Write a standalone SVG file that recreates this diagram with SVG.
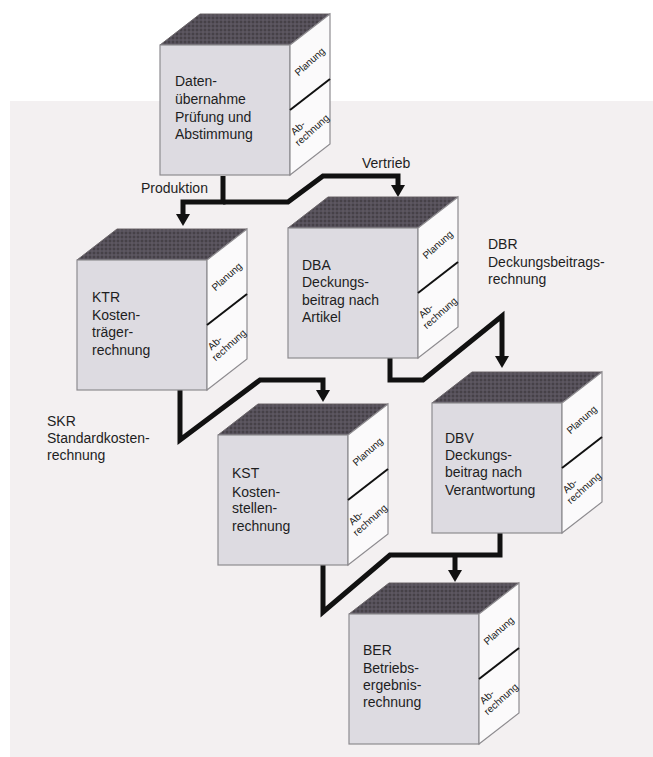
<svg xmlns="http://www.w3.org/2000/svg" xmlns:xlink="http://www.w3.org/1999/xlink" width="653" height="757" viewBox="0 0 653 757">
<style>
.top{fill:#524c51;stroke:#6a6569;stroke-width:1}
.front{fill:#dddbe1;stroke:#8e8c90;stroke-width:1.2}
.side{fill:#fbfafb;stroke:#8e8c90;stroke-width:1.2}
.div{stroke:#111;stroke-width:2}
.t{font-family:"Liberation Sans",Arial,sans-serif;font-size:14px;fill:#1e1e1e}
.s{font-family:"Liberation Sans",Arial,sans-serif;font-size:10px;fill:#1a1a1a}
.conn{fill:none;stroke:#111;stroke-width:5;stroke-linejoin:miter}
</style>
<defs>
<pattern id="dots" width="4" height="4" patternUnits="userSpaceOnUse">
<rect width="4" height="4" fill="#55505a"/>
<circle cx="1" cy="1" r="0.9" fill="#3f3a3e"/>
<circle cx="3" cy="3" r="0.7" fill="#6a646a"/>
</pattern>
<g id="cube">
<polygon class="top" points="0,0 130,0 170,-31 40,-31" style="fill:url(#dots)"/>
<rect class="front" x="0" y="0" width="130" height="130"/>
<polygon class="side" points="130,0 170,-31 170,99 130,130"/>
<line class="div" x1="130" y1="65" x2="170" y2="34"/>
</g>
<marker id="arr" markerUnits="userSpaceOnUse" markerWidth="16" markerHeight="16" viewBox="-1 -8 15 16" refX="0" refY="0" orient="auto">
<path d="M0,-7 L12,0 L0,7 z" fill="#111"/>
</marker>
</defs>
<rect x="0" y="0" width="653" height="757" fill="#ffffff"/>
<rect x="10" y="101" width="643" height="656" fill="#f3f0f1"/>

<g id="connectors">
<path class="conn" d="M223,176 V202 H183 V214" marker-end="url(#arr)"/>
<path class="conn" d="M223,202 H288 L323,176 H398 V185" marker-end="url(#arr)"/>
<path class="conn" d="M180,390 V440 L260,380 H323 V390" marker-end="url(#arr)"/>
<path class="conn" d="M390,358 V380 H423 L502,316 V356" marker-end="url(#arr)"/>
<path class="conn" d="M323,565 V612 L390,555 H500 V533"/>
<path class="conn" d="M455,555 V570" marker-end="url(#arr)"/>
<text class="t" x="141" y="193">Produktion</text>
<text class="t" x="362" y="168">Vertrieb</text>
<text class="t" x="488" y="249">DBR</text>
<text class="t" x="488" y="267">Deckungsbeitrags-</text>
<text class="t" x="488" y="284">rechnung</text>
<text class="t" x="47" y="426">SKR</text>
<text class="t" x="47" y="443">Standardkosten-</text>
<text class="t" x="47" y="460">rechnung</text>
</g>

<g id="daten">
<use xlink:href="#cube" href="#cube" transform="translate(160,45)"/>
<text class="t" x="175" y="86">Daten-</text>
<text class="t" x="175" y="104">übernahme</text>
<text class="t" x="175" y="122">Prüfung und</text>
<text class="t" x="175" y="139">Abstimmung</text>
<text class="s" text-anchor="middle" transform="translate(310,62) rotate(-42)" y="3">Planung</text>
<g transform="translate(309,128) rotate(-42)"><text class="s" x="-16" y="-4">Ab-</text><text class="s" x="-20" y="7">rechnung</text></g>
</g>

<g id="ktr">
<use xlink:href="#cube" href="#cube" transform="translate(77,260)"/>
<text class="t" x="92" y="302">KTR</text>
<text class="t" x="92" y="320">Kosten-</text>
<text class="t" x="92" y="337">träger-</text>
<text class="t" x="92" y="355">rechnung</text>
<text class="s" text-anchor="middle" transform="translate(227,277) rotate(-42)" y="3">Planung</text>
<g transform="translate(226,343) rotate(-42)"><text class="s" x="-16" y="-4">Ab-</text><text class="s" x="-20" y="7">rechnung</text></g>
</g>

<g id="dba">
<use xlink:href="#cube" href="#cube" transform="translate(288,228)"/>
<text class="t" x="302" y="270">DBA</text>
<text class="t" x="302" y="287">Deckungs-</text>
<text class="t" x="302" y="305">beitrag nach</text>
<text class="t" x="302" y="322">Artikel</text>
<text class="s" text-anchor="middle" transform="translate(438,245) rotate(-42)" y="3">Planung</text>
<g transform="translate(437,311) rotate(-42)"><text class="s" x="-16" y="-4">Ab-</text><text class="s" x="-20" y="7">rechnung</text></g>
</g>

<g id="kst">
<use xlink:href="#cube" href="#cube" transform="translate(218,435)"/>
<text class="t" x="232" y="478">KST</text>
<text class="t" x="232" y="497">Kosten-</text>
<text class="t" x="232" y="513">stellen-</text>
<text class="t" x="232" y="531">rechnung</text>
<text class="s" text-anchor="middle" transform="translate(368,452) rotate(-42)" y="3">Planung</text>
<g transform="translate(367,518) rotate(-42)"><text class="s" x="-16" y="-4">Ab-</text><text class="s" x="-20" y="7">rechnung</text></g>
</g>

<g id="dbv">
<use xlink:href="#cube" href="#cube" transform="translate(432,403)"/>
<text class="t" x="445" y="443">DBV</text>
<text class="t" x="445" y="460">Deckungs-</text>
<text class="t" x="445" y="477">beitrag nach</text>
<text class="t" x="445" y="495">Verantwortung</text>
<text class="s" text-anchor="middle" transform="translate(582,420) rotate(-42)" y="3">Planung</text>
<g transform="translate(581,486) rotate(-42)"><text class="s" x="-16" y="-4">Ab-</text><text class="s" x="-20" y="7">rechnung</text></g>
</g>

<g id="ber">
<use xlink:href="#cube" href="#cube" transform="translate(349,614)"/>
<text class="t" x="363" y="655">BER</text>
<text class="t" x="363" y="673">Betriebs-</text>
<text class="t" x="363" y="690">ergebnis-</text>
<text class="t" x="363" y="707">rechnung</text>
<text class="s" text-anchor="middle" transform="translate(499,631) rotate(-42)" y="3">Planung</text>
<g transform="translate(498,697) rotate(-42)"><text class="s" x="-16" y="-4">Ab-</text><text class="s" x="-20" y="7">rechnung</text></g>
</g>
</svg>
